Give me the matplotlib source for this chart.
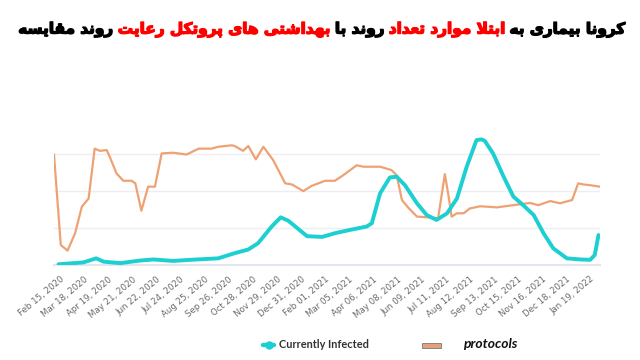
import matplotlib
matplotlib.use('Agg')
import matplotlib.pyplot as plt
import matplotlib.patheffects as pe
import pandas as pd
from matplotlib.lines import Line2D
from matplotlib.patches import Rectangle

# داده ها (خوانده شده از تصویر)
infected_dates = [
    '2020-02-13', '2020-03-17', '2020-04-03', '2020-04-13', '2020-05-05',
    '2020-05-31', '2020-06-18', '2020-07-14', '2020-08-06', '2020-09-12',
    '2020-10-04', '2020-10-22', '2020-11-04', '2020-11-22', '2020-12-04',
    '2020-12-14', '2021-01-08', '2021-01-28', '2021-02-14', '2021-03-06',
    '2021-03-28', '2021-04-04', '2021-04-15', '2021-04-28', '2021-05-07',
    '2021-05-18', '2021-06-03', '2021-06-16', '2021-06-29', '2021-07-13',
    '2021-07-26', '2021-08-08', '2021-08-21', '2021-08-28', '2021-09-01',
    '2021-09-12', '2021-09-26', '2021-10-09', '2021-10-22', '2021-11-05',
    '2021-11-18', '2021-12-01', '2021-12-19', '2022-01-06', '2022-01-19',
    '2022-01-25', '2022-01-30',
]
infected_values = [
    0.02, 0.07, 0.18, 0.09, 0.05,
    0.12, 0.15, 0.11, 0.14, 0.18,
    0.32, 0.42, 0.59, 1.04, 1.29,
    1.20, 0.78, 0.76, 0.86, 0.95,
    1.04, 1.13, 1.94, 2.37, 2.39,
    2.16, 1.67, 1.35, 1.22, 1.40,
    1.80, 2.66, 3.38, 3.40, 3.36,
    3.02, 2.39, 1.85, 1.62, 1.35,
    0.86, 0.45, 0.18, 0.15, 0.14,
    0.27, 0.81,
]

protocol_dates = [
    '2020-02-07', '2020-02-16', '2020-02-25', '2020-03-06', '2020-03-15',
    '2020-03-24', '2020-04-01', '2020-04-08', '2020-04-17', '2020-04-21',
    '2020-04-30', '2020-05-09', '2020-05-20', '2020-05-25', '2020-06-02',
    '2020-06-11', '2020-06-20', '2020-06-29', '2020-07-14', '2020-08-01',
    '2020-08-17', '2020-09-03', '2020-09-12', '2020-09-30', '2020-10-04',
    '2020-10-15', '2020-10-22', '2020-11-01', '2020-11-11', '2020-11-24',
    '2020-12-10', '2020-12-19', '2021-01-03', '2021-01-14', '2021-02-01',
    '2021-02-14', '2021-02-25', '2021-03-15', '2021-03-24', '2021-04-15',
    '2021-04-30', '2021-05-07', '2021-05-14', '2021-05-22', '2021-06-03',
    '2021-06-25', '2021-07-01', '2021-07-10', '2021-07-15', '2021-07-19',
    '2021-07-26', '2021-08-04', '2021-08-12', '2021-08-26', '2021-09-17',
    '2021-10-09', '2021-10-31', '2021-11-11', '2021-11-27', '2021-12-10',
    '2021-12-26', '2022-01-03', '2022-01-10', '2022-01-19', '2022-02-01',
]
protocol_values = [
    2.99, 0.54, 0.39, 0.86, 1.58,
    1.80, 3.15, 3.09, 3.11, 2.93,
    2.48, 2.28, 2.28, 2.21, 1.47,
    2.12, 2.12, 3.02, 3.04, 2.99,
    3.15, 3.15, 3.20, 3.24, 3.22,
    3.09, 3.22, 2.86, 3.20, 2.84,
    2.21, 2.18, 2.00, 2.14, 2.28,
    2.28, 2.43, 2.70, 2.66, 2.66,
    2.57, 2.43, 1.76, 1.56, 1.31,
    1.28, 1.26, 2.46, 1.85, 1.31,
    1.40, 1.40, 1.53, 1.59, 1.56,
    1.62, 1.68, 1.62, 1.73, 1.67,
    1.76, 2.21, 2.18, 2.16, 2.12,
]

tick_start = '2020-02-15'
tick_count = 23
tick_step = '32D'

title_parts = [
    ('مقایسه روند', 'black'),
    ('رعایت پروتکل های بهداشتی', '#ff0000'),
    ('با روند', 'black'),
    ('تعداد موارد ابتلا', '#ff0000'),
    ('به بیماری کرونا', 'black'),
]

CYAN = '#1ccfd0'
ORANGE = '#eea274'

# شکل های حروف فارسی: تنها، پایانی، آغازین، میانی
FORMS = {
    'ا': ['\ufe8d', '\ufe8e', None, None],
    'ب': ['\ufe8f', '\ufe90', '\ufe91', '\ufe92'],
    'پ': ['\ufb56', '\ufb57', '\ufb58', '\ufb59'],
    'ت': ['\ufe95', '\ufe96', '\ufe97', '\ufe98'],
    'د': ['\ufea9', '\ufeaa', None, None],
    'ر': ['\ufead', '\ufeae', None, None],
    'س': ['\ufeb1', '\ufeb2', '\ufeb3', '\ufeb4'],
    'ش': ['\ufeb5', '\ufeb6', '\ufeb7', '\ufeb8'],
    'ع': ['\ufec9', '\ufeca', '\ufecb', '\ufecc'],
    'ق': ['\ufed5', '\ufed6', '\ufed7', '\ufed8'],
    'ک': ['\ufb8e', '\ufb8f', '\ufb90', '\ufb91'],
    'ل': ['\ufedd', '\ufede', '\ufedf', '\ufee0'],
    'م': ['\ufee1', '\ufee2', '\ufee3', '\ufee4'],
    'ن': ['\ufee5', '\ufee6', '\ufee7', '\ufee8'],
    'ه': ['\ufee9', '\ufeea', '\ufeeb', '\ufeec'],
    'و': ['\ufeed', '\ufeee', None, None],
    'ی': ['\ufbfc', '\ufbfd', '\ufbfe', '\ufbff'],
    'لا': ['\ufefb', '\ufefc', None, None],
}


def shape_word(word):
    units = []
    i = 0
    while i < len(word):
        if word[i] == 'ل' and i + 1 < len(word) and word[i + 1] == 'ا':
            units.append('لا')
            i += 2
        else:
            units.append(word[i])
            i += 1
    out = []
    for k, u in enumerate(units):
        f = FORMS[u]
        prev_joins = k > 0 and FORMS[units[k - 1]][2] is not None
        next_joins = k + 1 < len(units) and f[2] is not None
        if prev_joins and next_joins:
            g = f[3]
        elif prev_joins:
            g = f[1]
        elif next_joins:
            g = f[2]
        else:
            g = f[0]
        out.append(g)
    return ''.join(reversed(out))


def shape_phrase(text):
    return ' '.join(shape_word(w) for w in text.split(' '))


fig = plt.figure(figsize=(6.4, 3.6), dpi=100)
ax = fig.add_axes([54 / 640, 95 / 360, 546 / 640, 133 / 360])

ax.plot(pd.to_datetime(protocol_dates), protocol_values, color=ORANGE, lw=1.6,
        solid_joinstyle='round', zorder=3)
ax.plot(pd.to_datetime(infected_dates), infected_values, color=CYAN, lw=2.8,
        solid_joinstyle='round', solid_capstyle='round', zorder=4)

ax.set_xlim(pd.Timestamp('2020-02-07'), pd.Timestamp('2022-02-01'))
ax.set_ylim(0, 3.6)
ax.set_yticks([1, 2, 3])
ax.yaxis.grid(True, color='#eceef3', lw=1)
ax.tick_params(axis='y', length=0, labelleft=False)

ticks = pd.date_range(tick_start, periods=tick_count, freq=tick_step)
ax.set_xticks(ticks)
ax.set_xticklabels([d.strftime('%b %d, %Y') for d in ticks], rotation=40,
                   ha='right', rotation_mode='anchor', fontsize=6.2, color='#6a6a6a')
ax.tick_params(axis='x', length=0, pad=7)

for s in ['top', 'right', 'left']:
    ax.spines[s].set_visible(False)
ax.spines['bottom'].set_color('#e3e6ee')
ax.spines['bottom'].set_linewidth(1.5)

# عنوان
renderer = fig.canvas.get_renderer()
texts = []
for s, c in title_parts:
    t = fig.text(0, 1 - 30 / 360, shape_phrase(s), color=c, fontsize=14,
                 fontweight='bold', family='DejaVu Sans', va='center', ha='left',
                 path_effects=[pe.withStroke(linewidth=1.0, foreground=c)])
    texts.append(t)
widths = [t.get_window_extent(renderer).width for t in texts]
scale = 612 / (sum(widths) + 4 * 6)
for t in texts:
    t.set_fontsize(14 * scale)
widths = [t.get_window_extent(renderer).width for t in texts]
gap = 6 * scale
x = (643 - sum(widths) - gap * 4) / 2
for t, w in zip(texts, widths):
    t.set_x(x / 640)
    x += w + gap

# راهنما
ly = 1 - 345 / 360
fig.add_artist(Line2D([263 / 640, 274 / 640], [ly, ly], color=CYAN, lw=3.2,
                      solid_capstyle='round'))
fig.add_artist(Line2D([268.5 / 640], [ly], color=CYAN, marker='o', ms=5, lw=0))
fig.text(279 / 640, ly, 'Currently Infected', fontsize=7.9, fontweight='bold',
         family='Lato', color='#333333', va='center', ha='left')
fig.add_artist(Rectangle((422 / 640, 1 - 347.5 / 360), 19 / 640, 5 / 360,
                         facecolor='#e3a07a', edgecolor='#7a7a7a', lw=0.6))
fig.text(463 / 640, ly + 0.004, 'protocols', fontsize=10, fontweight='bold',
         style='italic', family='Lato', color='#111111', va='center', ha='left')

fig.savefig('out.png', dpi=100)
